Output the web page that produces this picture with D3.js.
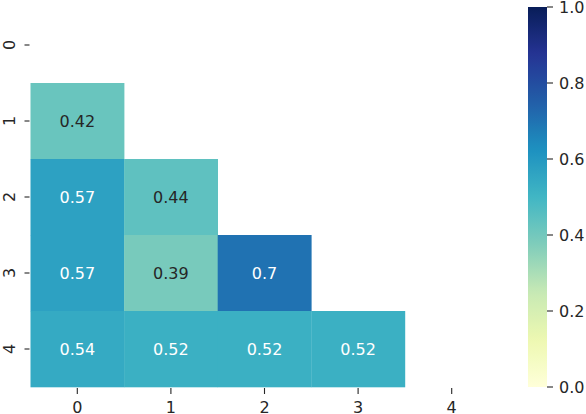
<!DOCTYPE html>
<html>
<head>
<meta charset="utf-8">
<script src="https://cdn.jsdelivr.net/npm/d3@7"></script>
<style>
  html, body { margin: 0; padding: 0; background: #fff; }
  svg { display: block; font-family: "DejaVu Sans", sans-serif; }
</style>
</head>
<body>
<svg id="chart" width="586" height="414"></svg>
<script>
// ---- data ----
const rowLabels = ["0", "1", "2", "3", "4"];
const colLabels = ["0", "1", "2", "3", "4"];
// lower triangle (strictly below diagonal); null = masked
const row0 = [null, null, null, null, null];
const row1 = [0.42, null, null, null, null];
const row2 = [0.57, 0.44, null, null, null];
const row3 = [0.57, 0.39, 0.70, null, null];
const row4 = [0.54, 0.52, 0.52, 0.52, null];
const matrix = [row0, row1, row2, row3, row4];
const colorbarTicks = [0.0, 0.2, 0.4, 0.6, 0.8, 1.0];

// ---- layout ----
const svg = d3.select("#chart");
const x0 = 30.5, x1 = 498.5, y0 = 7, y1 = 387;
const ink = "#262626";
const fs = 16;

const x = d3.scaleBand().domain(colLabels).range([x0, x1]).padding(0);
const y = d3.scaleBand().domain(rowLabels).range([y0, y1]).padding(0);

const ylgnbu = d3.schemeYlGnBu[9];
const color = d3.scaleLinear()
  .domain(ylgnbu.map((_, i) => i / (ylgnbu.length - 1)))
  .range(ylgnbu)
  .interpolate(d3.interpolateRgb)
  .clamp(true);

const cells = [];
matrix.forEach((row, i) => row.forEach((v, j) => {
  if (v !== null) cells.push({ r: rowLabels[i], c: colLabels[j], v });
}));

function luminance(c) {
  const rgb = d3.rgb(c);
  const f = u => { u /= 255; return u <= 0.03928 ? u / 12.92 : Math.pow((u + 0.055) / 1.055, 2.4); };
  return 0.2126 * f(rgb.r) + 0.7152 * f(rgb.g) + 0.0722 * f(rgb.b);
}

const g = svg.append("g");
g.selectAll("rect.cell").data(cells).join("rect")
  .attr("class", "cell")
  .attr("x", d => x(d.c))
  .attr("y", d => y(d.r))
  .attr("width", x.bandwidth() + 0.3)
  .attr("height", y.bandwidth() + 0.3)
  .attr("fill", d => color(d.v));

g.selectAll("text.ann").data(cells).join("text")
  .attr("class", "ann")
  .attr("x", d => x(d.c) + x.bandwidth() / 2)
  .attr("y", d => y(d.r) + y.bandwidth() / 2)
  .attr("text-anchor", "middle")
  .attr("dy", "0.36em")
  .attr("font-size", fs)
  .attr("fill", d => luminance(color(d.v)) > 0.408 ? ink : "#ffffff")
  .text(d => String(+d.v.toFixed(2)));

// ---- x axis ----
const xAxis = svg.append("g");
colLabels.forEach(c => {
  const cx = x(c) + x.bandwidth() / 2;
  xAxis.append("line")
    .attr("x1", cx).attr("x2", cx)
    .attr("y1", y1 + 1).attr("y2", y1 + 7)
    .attr("stroke", ink).attr("stroke-width", 1.1);
  xAxis.append("text")
    .attr("x", cx).attr("y", 413)
    .attr("text-anchor", "middle")
    .attr("font-size", fs).attr("fill", ink)
    .text(c);
});

// ---- y axis ----
const yAxis = svg.append("g");
rowLabels.forEach(r => {
  const cy = y(r) + y.bandwidth() / 2;
  yAxis.append("line")
    .attr("x1", x0 - 6).attr("x2", x0 - 1)
    .attr("y1", cy).attr("y2", cy)
    .attr("stroke", ink).attr("stroke-width", 1.1);
  yAxis.append("text")
    .attr("transform", `translate(15,${cy}) rotate(-90)`)
    .attr("text-anchor", "middle")
    .attr("font-size", fs).attr("fill", ink)
    .text(r);
});

// ---- colorbar ----
const cbx0 = 528, cbx1 = 547;
const cbScale = d3.scaleLinear().domain([0, 1]).range([y1, y0]);
const defs = svg.append("defs");
const grad = defs.append("linearGradient")
  .attr("id", "cbgrad")
  .attr("x1", "0").attr("y1", "1").attr("x2", "0").attr("y2", "0");
d3.range(0, 1.0001, 0.02).forEach(t => {
  grad.append("stop").attr("offset", t).attr("stop-color", color(t));
});
svg.append("rect")
  .attr("x", cbx0).attr("y", cbScale(1))
  .attr("width", cbx1 - cbx0).attr("height", cbScale(0) - cbScale(1))
  .attr("fill", "url(#cbgrad)");

const cbAxis = svg.append("g");
colorbarTicks.forEach(t => {
  const ty = cbScale(t);
  cbAxis.append("line")
    .attr("x1", cbx1).attr("x2", cbx1 + 6)
    .attr("y1", ty).attr("y2", ty)
    .attr("stroke", ink).attr("stroke-width", 1.1);
  cbAxis.append("text")
    .attr("x", 559).attr("y", ty)
    .attr("dy", "0.36em")
    .attr("font-size", fs).attr("fill", ink)
    .text(t.toFixed(1));
});
</script>
</body>
</html>
